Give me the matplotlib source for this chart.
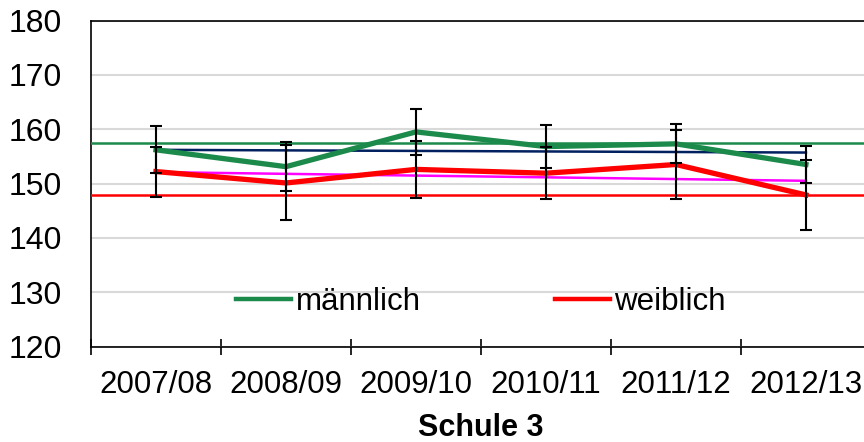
import numpy as np
import matplotlib
matplotlib.use("Agg")
import matplotlib.pyplot as plt
from matplotlib.lines import Line2D

plt.rcParams['font.family'] = ['Liberation Sans', 'DejaVu Sans']

# data
years = ['2007/08', '2008/09', '2009/10', '2010/11', '2011/12', '2012/13']
male = [156.2, 153.1, 159.5, 156.8, 157.3, 153.5]
male_err = [4.3, 4.5, 4.3, 4.0, 3.6, 3.4]
female = [152.2, 150.1, 152.6, 151.9, 153.5, 147.9]
female_err = [4.6, 6.9, 5.2, 4.8, 6.3, 6.4]
trend_male = [156.2, 155.7]      # linear trend, first / last year
trend_female = [152.1, 150.5]
ref_male = 157.4                 # reference lines
ref_female = 147.8

green = '#1b8a4b'
red = '#ff0000'
navy = '#002060'
magenta = '#ff00ff'

fig = plt.figure(figsize=(8.64, 4.42), dpi=100)
ax = fig.add_axes([0.1053, 0.216, 0.9027, 0.7376])

x = np.arange(len(years))

ax.axhline(ref_male, color=green, lw=1.8, zorder=3)
ax.axhline(ref_female, color=red, lw=1.8, zorder=3)
ax.plot([x[0], x[-1]], trend_male, color=navy, lw=1.8, zorder=4)
ax.plot([x[0], x[-1]], trend_female, color=magenta, lw=1.8, zorder=4)
ax.plot(x, male, color=green, lw=3.8, zorder=5)
ax.plot(x, female, color=red, lw=3.8, zorder=5)
ax.errorbar(x, male, yerr=male_err, fmt='none', ecolor='black',
            elinewidth=1.5, capsize=4.5, capthick=1.5, zorder=6)
ax.errorbar(x, female, yerr=female_err, fmt='none', ecolor='black',
            elinewidth=1.5, capsize=4.5, capthick=1.5, zorder=6)

ax.set_xlim(-0.5, len(years) - 0.5)
ax.set_ylim(120, 180)
ax.set_yticks(np.arange(120, 181, 10))
ax.grid(axis='y', color='#d9d9d9', lw=1.5)
ax.set_axisbelow(True)

ax.set_xticks(np.arange(-0.5, len(years), 1.0))
ax.set_xticklabels([])
ax.set_xticks(x, minor=True)
ax.set_xticklabels(years, minor=True)
ax.tick_params(axis='x', which='major', direction='inout', length=12, width=1.2)
ax.tick_params(axis='x', which='minor', length=0, pad=17, labelsize=22.5)
ax.tick_params(axis='y', length=0, pad=21, labelsize=23)

for s in ax.spines.values():
    s.set_color('black')
    s.set_linewidth(1.2)

ax.set_xlabel('Schule 3', fontsize=22, fontweight='bold', labelpad=9)

handles = [Line2D([], [], color=green, lw=3.2), Line2D([], [], color=red, lw=3.2)]
ax.legend(handles, ['männlich', 'weiblich'], loc='center', bbox_to_anchor=(0.5, 0.136),
          ncol=2, frameon=False, fontsize=22.5, handlelength=1.75, handletextpad=0.15,
          columnspacing=4.3)

fig.savefig('out.png', dpi=100)
